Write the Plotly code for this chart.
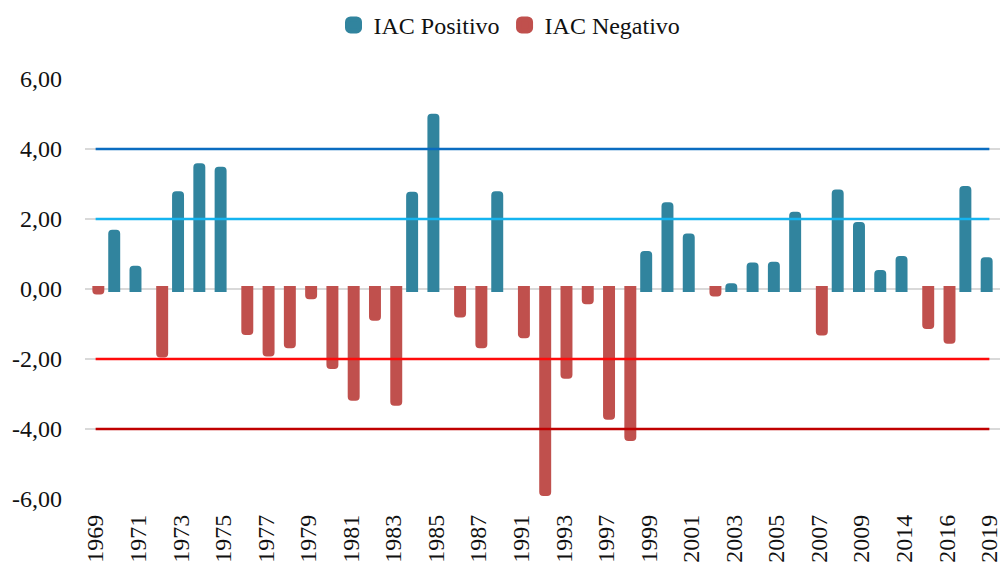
import plotly.graph_objects as go

years = [1969, 1970, 1971, 1972, 1973, 1974, 1975, 1976, 1977, 1978,
         1979, 1980, 1981, 1982, 1983, 1984, 1985, 1986, 1987, 1988,
         1991, 1992, 1993, 1995, 1997, 1998, 1999, 2000, 2001, 2002,
         2003, 2004, 2005, 2006, 2007, 2008, 2009, 2010, 2014, 2015,
         2016, 2017, 2019]

iac = [-0.07, 1.61, 0.58, -1.87, 2.71, 3.51, 3.41, -1.23, -1.84, -1.61,
       -0.21, -2.20, -3.11, -0.82, -3.25, 2.69, 4.92, -0.73, -1.61, 2.71,
       -1.32, -5.83, -2.48, -0.35, -3.65, -4.26, 1.00, 2.39, 1.50, -0.13,
       0.08, 0.67, 0.69, 2.12, -1.24, 2.76, 1.83, 0.46, 0.86, -1.06,
       -1.48, 2.86, 0.82]

thresholds = [4, 2, -2, -4]
threshold_colors = ["#0A6CC0", "#14B4F0", "#FF0A0A", "#C00000"]

y_ticks = [-6, -4, -2, 0, 2, 4, 6]
y_ticktext = ["-6,00", "-4,00", "-2,00", "0,00", "2,00", "4,00", "6,00"]

cats = [str(y) for y in years]
pos_vals = [v if v > 0 else None for v in iac]
neg_vals = [v if v < 0 else None for v in iac]

BLUE = "#31849E"
RED = "#C0504D"
FONT = "'Liberation Serif', 'Times New Roman', 'DejaVu Serif', serif"

fig = go.Figure()
fig.add_trace(go.Bar(
    x=cats, y=pos_vals, name="IAC Positivo",
    width=0.28, offset=-0.267,
    marker=dict(color=BLUE, line=dict(color=BLUE, width=6), cornerradius=1),
))
fig.add_trace(go.Bar(
    x=cats, y=neg_vals, name="IAC Negativo",
    width=0.28, offset=-0.013,
    marker=dict(color=RED, line=dict(color=RED, width=6), cornerradius=1),
))
for t, c in zip(thresholds, threshold_colors):
    fig.add_trace(go.Scatter(
        x=[cats[0], cats[-1]], y=[t, t], mode="lines",
        line=dict(color=c, width=2.5), showlegend=False, hoverinfo="skip",
    ))

fig.update_layout(
    width=1003, height=565,
    margin=dict(l=85, r=3, t=79, b=66, autoexpand=False),
    barmode="overlay",
    paper_bgcolor="white", plot_bgcolor="white",
    font=dict(family=FONT, size=23, color="#111111"),
    legend=dict(
        orientation="h", xref="container", yref="container",
        x=0.508, xanchor="center", y=0.995, yanchor="top",
        font=dict(family=FONT, size=24, color="#111111"),
        itemwidth=30, tracegroupgap=0,
    ),
    xaxis=dict(
        type="category", categoryorder="array", categoryarray=cats,
        tickmode="array", tickvals=cats[::2], ticktext=cats[::2],
        tickangle=-90, tickfont=dict(family=FONT, size=24),
        showgrid=False, showline=False, ticks="", ticklabelstandoff=10,
        range=[-0.5, len(cats) - 0.5], automargin=False,
    ),
    yaxis=dict(
        range=[-6, 6], tickmode="array", tickvals=y_ticks, ticktext=y_ticktext,
        tickfont=dict(family=FONT, size=24),
        showgrid=True, gridcolor="#D9D9D9", gridwidth=1.5,
        zeroline=False, showline=False, ticks="", ticklabelstandoff=22,
        automargin=False,
    ),
)

fig.write_html("out.html", config={"displayModeBar": False},
               post_script="document.body.style.margin='0px';")
